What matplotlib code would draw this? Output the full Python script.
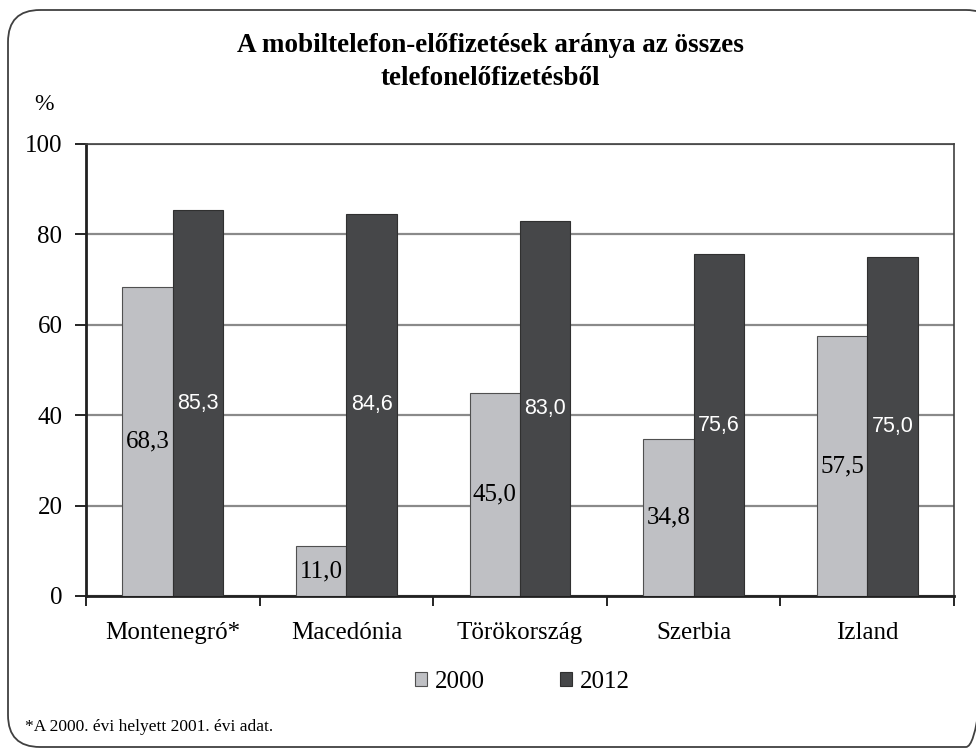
import numpy as np
import matplotlib
matplotlib.use("Agg")
from matplotlib import pyplot as plt
from matplotlib.patches import FancyBboxPatch

# Data
countries = ["Montenegró*", "Macedónia", "Törökország", "Szerbia", "Izland"]
values_2000 = [68.3, 11.0, 45.0, 34.8, 57.5]
values_2012 = [85.3, 84.6, 83.0, 75.6, 75.0]
series_names = ["2000", "2012"]
y_ticks = [0, 20, 40, 60, 80, 100]


def fmt(v):
    return f"{v:.1f}".replace(".", ",")


def main():
    serif = "Liberation Serif"
    sans = "Liberation Sans"
    light = "#bfc0c4"
    dark = "#464749"

    fig = plt.figure(figsize=(9.76, 7.51), dpi=100)

    # rounded frame around the whole chart, drawn in pixel units
    bg = fig.add_axes([0, 0, 1, 1], zorder=-1)
    bg.set_xlim(0, 976)
    bg.set_ylim(751, 0)
    bg.axis("off")
    bg.add_patch(FancyBboxPatch((8, 10), 990, 737,
                                boxstyle="round,pad=0,rounding_size=32",
                                fill=False, edgecolor="#404040", linewidth=1.3))

    ax = fig.add_axes([86 / 976, 155 / 751, 868 / 976, 452 / 751])

    x = np.arange(len(countries))
    w = 0.29
    ax.bar(x - w / 2, values_2000, w, color=light, edgecolor="#505050",
           linewidth=0.8, label=series_names[0], zorder=3)
    ax.bar(x + w / 2, values_2012, w, color=dark, edgecolor="#303030",
           linewidth=0.8, label=series_names[1], zorder=3)

    # data labels
    for i in range(len(countries)):
        ax.text(x[i] - w / 2, values_2000[i] / 2, fmt(values_2000[i]),
                ha="center", va="center", fontsize=18, family=serif,
                color="black", zorder=4)
        ax.text(x[i] + w / 2, values_2012[i] / 2, fmt(values_2012[i]),
                ha="center", va="center", fontsize=15.5, family=sans,
                color="white", zorder=4)

    ax.set_xlim(-0.5, len(countries) - 0.5)
    ax.set_ylim(0, 100)
    ax.set_yticks(y_ticks)
    ax.set_yticklabels([str(t) for t in y_ticks], family=serif, fontsize=18)
    ax.yaxis.grid(True, color="#8a8a8a", linewidth=1.6, zorder=0)

    # category ticks at boundaries, labels at centers
    ax.set_xticks(np.arange(-0.5, len(countries), 1.0))
    ax.set_xticklabels([])
    ax.set_xticks(x, minor=True)
    ax.set_xticklabels(countries, minor=True, family=serif, fontsize=18)
    ax.tick_params(axis="x", which="minor", length=0, pad=19)
    ax.tick_params(axis="x", which="major", length=7, width=1.2, direction="out")
    ax.tick_params(axis="y", length=8, width=1.2, direction="out", pad=9)

    for side in ["left", "bottom"]:
        ax.spines[side].set_linewidth(2.0)
        ax.spines[side].set_color("#202020")
    for side in ["top", "right"]:
        ax.spines[side].set_linewidth(1.2)
        ax.spines[side].set_color("#404040")

    fig.text(490 / 976, 1 - 62 / 751,
             "A mobiltelefon-előfizetések aránya az összes\ntelefonelőfizetésből",
             ha="center", va="center", fontsize=19.5, fontweight="bold",
             family=serif, linespacing=1.4)
    fig.text(44 / 976, 1 - 104 / 751, "%", ha="center", va="center",
             fontsize=17, family=serif)

    fig.legend(loc="center", bbox_to_anchor=(522 / 976, 1 - 682 / 751),
               ncol=2, frameon=False, prop={"family": serif, "size": 18},
               handlelength=0.5, handleheight=0.5, handletextpad=0.3,
               columnspacing=3.0)

    fig.text(25 / 976, 1 - 727 / 751, "*A 2000. évi helyett 2001. évi adat.",
             ha="left", va="center", fontsize=12.5, family=serif)

    fig.savefig("out.png", dpi=100)


if __name__ == "__main__":
    main()
